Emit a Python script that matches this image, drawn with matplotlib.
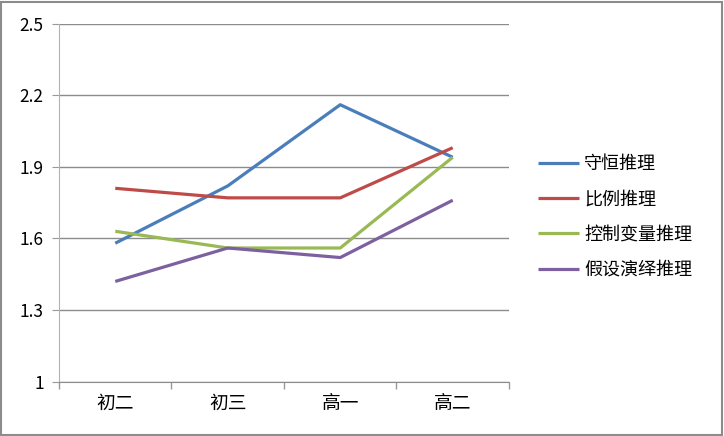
import matplotlib
matplotlib.use("Agg")
import matplotlib.pyplot as plt
from matplotlib.patches import Rectangle

plt.rcParams['font.family'] = ['Noto Sans CJK SC', 'DejaVu Sans']

grades = ["初二", "初三", "高一", "高二"]
conservation = [1.58, 1.82, 2.16, 1.94]
proportion = [1.81, 1.77, 1.77, 1.98]
control_var = [1.63, 1.56, 1.56, 1.94]
hypo_deduct = [1.42, 1.56, 1.52, 1.76]

series = [
    ("守恒推理", conservation, "#4a7ebb"),
    ("比例推理", proportion, "#be4b48"),
    ("控制变量推理", control_var, "#98b954"),
    ("假设演绎推理", hypo_deduct, "#7d60a0"),
]

fig = plt.figure(figsize=(7.24, 4.36), dpi=100)
fig.patches.append(Rectangle((0.002, 0.003), 0.995, 0.993, transform=fig.transFigure,
                             fill=False, edgecolor="#8c8c8c", linewidth=1.5))
ax = fig.add_axes([0.0815, 0.1245, 0.6215, 0.8215])

x = list(range(len(grades)))
for name, vals, color in series:
    ax.plot(x, vals, color=color, linewidth=2.3, label=name, solid_capstyle="butt")

ax.set_xlim(-0.5, len(grades) - 0.5)
ax.set_ylim(1, 2.5)
ax.set_yticks([1, 1.3, 1.6, 1.9, 2.2, 2.5])
ax.set_yticklabels(["1", "1.3", "1.6", "1.9", "2.2", "2.5"])
ax.set_xticks(x)
ax.set_xticklabels(grades)
ax.set_xticks([i - 0.5 for i in range(len(grades) + 1)], minor=True)
ax.tick_params(axis="x", which="major", length=0, labelsize=13.5, pad=8)
ax.tick_params(axis="x", which="minor", length=5, color="#999999", width=1)
ax.tick_params(axis="y", length=5, color="#999999", labelsize=12.5, pad=6)
ax.grid(axis="y", color="#8c8c8c", linewidth=1)
ax.set_axisbelow(True)
for s in ["top", "right"]:
    ax.spines[s].set_visible(False)
ax.spines["left"].set_color("#b3b3b3")
ax.spines["bottom"].set_color("#8c8c8c")

fig.legend(loc="center left", bbox_to_anchor=(0.72, 0.502), frameon=False,
           fontsize=13, handlelength=2.3, labelspacing=0.95, handletextpad=0.3)

fig.savefig("out.png", dpi=100)
